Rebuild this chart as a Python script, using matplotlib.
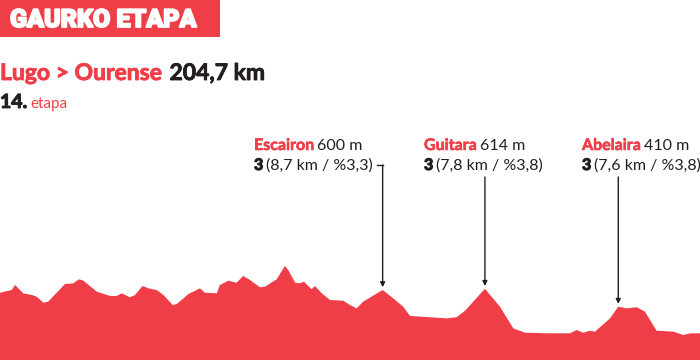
import matplotlib
matplotlib.use('Agg')
import matplotlib.pyplot as plt
import matplotlib.patheffects as pe
from matplotlib.patches import Rectangle
from matplotlib.lines import Line2D

# Stage profile: distance (km) and elevation (m)
km = [0, 3.4, 4.4, 6.8, 9.3, 10.7, 12.7, 14.1, 19.0, 21.4, 23.1, 24.4, 28.3,
      32.2, 34.1, 35.6, 38.0, 39.5, 41.7, 43.4, 45.8, 47.8, 50.5, 51.7, 55.1,
      58.5, 59.9, 63.4, 64.3, 66.8, 69.2, 71.1, 73.1, 76.0, 77.5, 80.9, 83.3,
      84.3, 86.3, 87.7, 88.9, 91.1, 92.1, 94.1, 96.5, 100.4, 102.3, 104.3,
      106.2, 111.9, 115.0, 117.9, 119.9, 130.6, 133.5, 136.0, 141.8, 146.2,
      150.1, 153.5, 160.8, 166.7, 168.6, 170.6, 172.5, 174.0, 178.4, 180.8,
      183.3, 186.2, 188.6, 192.0, 196.9, 199.8, 201.8, 204.7]
elev = [569, 600, 657, 562, 543, 524, 455, 467, 668, 676, 722, 706, 581,
        532, 532, 562, 517, 543, 646, 619, 600, 543, 429, 440, 554,
        619, 569, 562, 657, 706, 683, 760, 714, 631, 638, 722, 874,
        828, 683, 676, 695, 608, 646, 562, 486, 478, 429, 391,
        467, 600, 505, 410, 304, 277, 289, 364, 614, 410,
        163, 113, 106, 106, 144, 113, 136, 125, 277, 410,
        391, 403, 353, 136, 125, 87, 106, 106]

climbs = ['Escairon', 'Guitara', 'Abelaira']
climb_height = ['600 m', '614 m', '410 m']
climb_cat = ['3', '3', '3']
climb_info = ['(8,7 km / %3,3)', '(7,8 km / %3,8)', '(7,6 km / %3,8)']
climb_km = [111.9, 141.8, 180.8]
climb_elev = [600, 614, 410]

RED = '#ef3e47'
DARK = '#231f20'
plt.rcParams['font.family'] = ['Lato', 'DejaVu Sans']

W, H = 700, 360
fig = plt.figure(figsize=(7, 3.6), dpi=100)
ax = fig.add_axes([0, 0, 1, 1])
ax.fill_between(km, elev, -300, color=RED, lw=0)
ax.set_xlim(0, 204.7)
ax.set_ylim(-198, 3906)
ax.axis('off')

renderer = fig.canvas.get_renderer()


def fx(x):
    return x / W


def fy(y):
    return 1 - y / H


def text_run(x, y, parts, gap=3):
    # place text pieces one after another on the same baseline (pixel coords)
    for s, kw in parts:
        t = fig.text(fx(x), fy(y), s, va='baseline', **kw)
        x = t.get_window_extent(renderer).x1 + gap
    return x


def heavy(c, w):
    return [pe.withStroke(linewidth=w, foreground=c)]


# header
fig.add_artist(Rectangle((0, fy(37)), fx(220), 37 / H, transform=fig.transFigure,
                         color=RED, lw=0))
fig.text(fx(10), fy(27), 'GAURKO ETAPA', color='white', fontsize=18,
         fontweight='black', family=['Roboto', 'DejaVu Sans'], va='baseline',
         path_effects=heavy('white', 1.3))

text_run(0, 80, [('Lugo > Ourense', dict(color=RED, fontsize=16.5, fontweight='bold',
                                         path_effects=heavy(RED, 0.6))),
                 ('204,7 km', dict(color=DARK, fontsize=16.5, fontweight='bold',
                                   path_effects=heavy(DARK, 0.6)))], gap=8)
text_run(0, 108, [('14.', dict(color=DARK, fontsize=14, fontweight='black',
                               path_effects=heavy(DARK, 0.6))),
                  ('etapa', dict(color=RED, fontsize=11, fontweight='normal'))], gap=3)

# climbs
text_x = [254, 424, 582]
for i in range(len(climbs)):
    tx = text_x[i]
    text_run(tx, 150, [(climbs[i], dict(color=RED, fontsize=11.5, fontweight='bold',
                                        path_effects=heavy(RED, 0.4))),
                       (climb_height[i], dict(color=DARK, fontsize=11.5, fontweight='normal'))])
    end = text_run(tx, 170, [(climb_cat[i], dict(color=DARK, fontsize=11.5, fontweight='black',
                                                 path_effects=heavy(DARK, 0.7))),
                             (climb_info[i], dict(color=DARK, fontsize=11.5, fontweight='normal'))],
                   gap=3)
    peak_px = ax.transData.transform((climb_km[i], climb_elev[i]))[0]
    if end < peak_px:
        y_start = 165
        fig.add_artist(Line2D([fx(end + 1), fx(peak_px)], [fy(y_start), fy(y_start)],
                              color=DARK, lw=1))
    else:
        y_start = 177
    ax.annotate('', xy=(climb_km[i], climb_elev[i]),
                xytext=(climb_km[i], fy(y_start)),
                textcoords=('data', 'figure fraction'),
                arrowprops=dict(arrowstyle='-|>', color=DARK, lw=1,
                                shrinkA=0, shrinkB=2, mutation_scale=7))

fig.savefig('out.png', dpi=100)
